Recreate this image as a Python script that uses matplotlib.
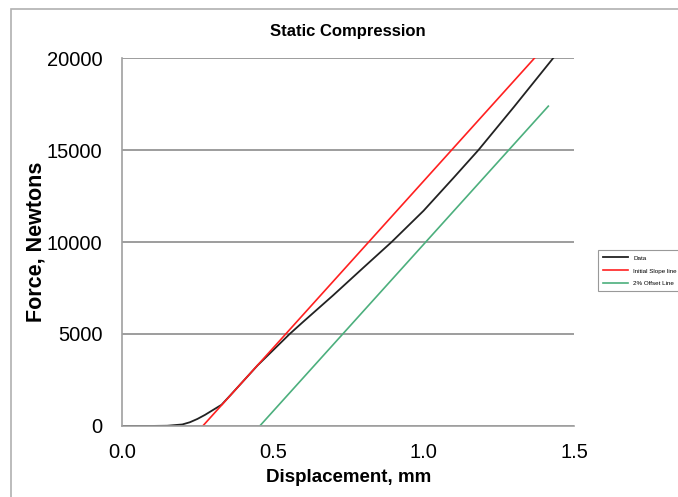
import matplotlib.pyplot as plt
from matplotlib.patches import Rectangle

plt.rcParams["font.family"] = ["Liberation Sans", "DejaVu Sans"]

disp_mm = [0.0, 0.10, 0.15, 0.20, 0.225, 0.25, 0.275, 0.30, 0.33, 0.36, 0.40,
           0.45, 0.50, 0.556, 0.60, 0.70, 0.80, 0.894, 1.00, 1.10, 1.182,
           1.30, 1.43]
force_n = [0, 0, 10, 80, 200, 380, 600, 850, 1150, 1680, 2400,
           3300, 4100, 5000, 5650, 7100, 8600, 10000, 11700, 13500, 15000,
           17350, 20000]

# Initial slope line and 2% offset line (end points)
slope_x = [0.268, 1.368]
slope_y = [0, 20000]
offset_x = [0.457, 1.414]
offset_y = [0, 17390]

fig = plt.figure(figsize=(6.78, 4.97), dpi=100)
ax = fig.add_axes([0.180, 0.143, 0.667, 0.740])

ax.plot(disp_mm, force_n, color="#222222", linewidth=1.3, label="Data")
ax.plot(slope_x, slope_y, color="#ff2020", linewidth=1.2, label="Initial Slope line")
ax.plot(offset_x, offset_y, color="#4caf7d", linewidth=1.2, label="2% Offset Line")

ax.set_xlim(0, 1.5)
ax.set_ylim(0, 20000)
ax.set_xticks([0.0, 0.5, 1.0, 1.5])
ax.set_xticklabels(["0.0", "0.5", "1.0", "1.5"])
ax.set_yticks([0, 5000, 10000, 15000, 20000])
ax.tick_params(length=0, labelsize=14.5)
ax.tick_params(axis="x", pad=12)
ax.tick_params(axis="y", pad=14)
ax.yaxis.grid(True, color="#8c8c8c", linewidth=1.2)
ax.set_axisbelow(True)

for side in ["top", "right"]:
    ax.spines[side].set_visible(False)
for side in ["left", "bottom"]:
    ax.spines[side].set_color("#a0a0a0")
    ax.spines[side].set_linewidth(1.2)

ax.set_xlabel("Displacement, mm", fontsize=13.5, fontweight="bold", labelpad=5)
ax.set_ylabel("Force, Newtons", fontsize=15.5, fontweight="bold", labelpad=0)
ax.set_title("Static Compression", fontsize=12, fontweight="bold", pad=16)

leg = fig.legend(loc="center left", bbox_to_anchor=(0.878, 0.455),
                 fontsize=4.5, frameon=True, fancybox=False,
                 handlelength=4, borderpad=0.8, labelspacing=1.2)
leg.get_frame().set_edgecolor("#808080")
leg.get_frame().set_linewidth(0.8)

# chart area border
fig.patches.append(Rectangle((0.016, -0.1), 1.2, 1.081, transform=fig.transFigure,
                             fill=False, edgecolor="#b0b0b0", linewidth=1.2))

fig.savefig("out.png", dpi=100)
